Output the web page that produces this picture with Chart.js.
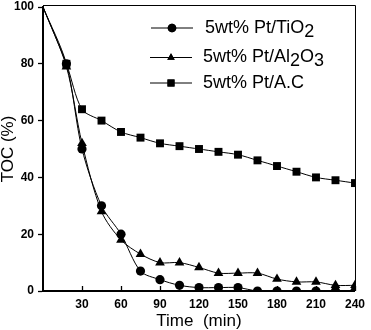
<!DOCTYPE html>
<html>
<head>
<meta charset="utf-8">
<script src="https://cdn.jsdelivr.net/npm/chart.js@4/dist/chart.umd.min.js"></script>
<style>
  html, body { margin: 0; padding: 0; background: #fff; }
  #wrap { width: 371px; height: 330px; }
</style>
</head>
<body>
<div id="wrap"><canvas id="tocChart"></canvas></div>
<script>
// time points (min)
const times = [0, 18, 30, 45, 60, 75, 90, 105, 120, 135, 150, 165, 180, 195, 210, 225, 240];
// TOC (%) for each catalyst
const tio2  = [100, 80, 50, 30, 20, 7, 4, 2, 1.2, 1.2, 1.2, 0, 0, 0, 0, 0, 0];
const al2o3 = [100, 79, 52, 28, 18, 13, 10, 10, 8.3, 6.3, 6.3, 6.3, 4.2, 3.2, 3.2, 2, 2];
const ac    = [100, 80, 64, 60, 56, 54, 52, 51, 50, 49, 48, 46, 44, 42, 40, 39, 38];

const xTicks = [30, 60, 90, 120, 150, 180, 210, 240];
const yTicks = [0, 20, 40, 60, 80, 100];

// legend rows: label pieces (text, subscript?)
const legendRows = [
  { parts: [['5wt% Pt/TiO', false], ['2', true]], style: 'circle' },
  { parts: [['5wt% Pt/Al', false], ['2', true], ['O', false], ['3', true]], style: 'triangle' },
  { parts: [['5wt% Pt/A.C', false]], style: 'rect' }
];

const toPts = arr => arr.map((v, i) => ({ x: times[i], y: v }));

const mkSet = (label, arr, style, r) => ({
  label: label,
  data: toPts(arr),
  borderColor: '#000',
  backgroundColor: '#000',
  borderWidth: 1,
  pointStyle: style,
  pointRadius: arr.map((v, i) => i === 0 ? 0 : r),
  pointBorderWidth: 0,
  tension: 0.3
});

// frame, inward x ticks and the legend
const framePlugin = {
  id: 'frame',
  afterDraw(chart) {
    const ctx = chart.ctx;
    const a = chart.chartArea;
    const xs = chart.scales.x;
    ctx.save();
    ctx.strokeStyle = '#000';
    ctx.lineWidth = 1;
    ctx.beginPath();
    ctx.moveTo(a.left, a.top - 1.5);
    ctx.lineTo(a.right + 0.5, a.top - 1.5);
    ctx.lineTo(a.right + 0.5, a.bottom);
    ctx.stroke();

    ctx.lineWidth = 1.3;
    xTicks.forEach(t => {
      const px = Math.round(xs.getPixelForValue(t)) + 0.5;
      ctx.beginPath();
      ctx.moveTo(px, a.bottom);
      ctx.lineTo(px, a.bottom - 5);
      ctx.stroke();
    });

    // legend
    const rowY = [28, 57.5, 83];
    const lineX = [[151, 193], [150, 192], [150, 192]];
    const textX = [205, 203, 203];
    ctx.font = '18px "Liberation Sans", Arial, sans-serif';
    ctx.textBaseline = 'middle';
    ctx.fillStyle = '#000';
    legendRows.forEach((row, i) => {
      const y = rowY[i];
      ctx.lineWidth = 1;
      ctx.beginPath();
      ctx.moveTo(lineX[i][0], y);
      ctx.lineTo(lineX[i][1], y);
      ctx.stroke();
      const mx = (lineX[i][0] + lineX[i][1]) / 2;
      Chart.helpers.drawPoint(ctx, { pointStyle: row.style, radius: row.style === 'rect' ? 5 : 4.3, rotation: 0, borderWidth: 0 }, mx, y);
      ctx.fill();
      let x = textX[i];
      row.parts.forEach(([txt, sub]) => {
        ctx.fillText(txt, x, sub ? y + 4 : y);
        x += ctx.measureText(txt).width;
      });
    });
    ctx.restore();
  }
};

new Chart(document.getElementById('tocChart').getContext('2d'), {
  type: 'line',
  data: {
    datasets: [
      mkSet('5wt% Pt/TiO2', tio2, 'circle', 4.6),
      mkSet('5wt% Pt/Al2O3', al2o3, 'triangle', 5.6),
      mkSet('5wt% Pt/A.C', ac, 'rect', 5.6)
    ]
  },
  options: {
    responsive: true,
    maintainAspectRatio: false,
    animation: false,
    layout: { padding: { top: 7, right: 11, left: 0, bottom: 0 } },
    plugins: {
      legend: { display: false },
      tooltip: { enabled: false }
    },
    scales: {
      x: {
        type: 'linear',
        min: 0,
        max: 240,
        afterBuildTicks: s => { s.ticks = xTicks.map(v => ({ value: v })); },
        afterFit: s => { s.height = 39; },
        grid: { display: false, drawTicks: false, tickLength: 0 },
        border: { display: true, color: '#000', width: 2 },
        ticks: {
          color: '#000',
          padding: 6,
          maxRotation: 0,
          autoSkip: false,
          font: { family: '"Liberation Sans", Arial, sans-serif', size: 12, weight: 'bold' }
        },
        title: {
          display: true,
          text: 'Time  (min)',
          color: '#000',
          padding: 0,
          font: { family: '"Liberation Sans", Arial, sans-serif', size: 17, lineHeight: 1 }
        }
      },
      y: {
        min: 0,
        max: 100,
        afterBuildTicks: s => { s.ticks = yTicks.map(v => ({ value: v })); },
        afterFit: s => { s.width = 43; s.paddingTop = 0; s.paddingBottom = 0; },
        grid: { drawOnChartArea: false, tickLength: 5, color: '#000', tickWidth: 1.3 },
        border: { display: true, color: '#000', width: 2 },
        ticks: {
          color: '#000',
          padding: 4,
          font: { family: '"Liberation Sans", Arial, sans-serif', size: 12, weight: 'bold' }
        },
        title: {
          display: true,
          text: 'TOC (%)',
          color: '#000',
          padding: 0,
          font: { family: '"Liberation Sans", Arial, sans-serif', size: 17, lineHeight: 1 }
        }
      }
    }
  },
  plugins: [framePlugin]
});
</script>
</body>
</html>
